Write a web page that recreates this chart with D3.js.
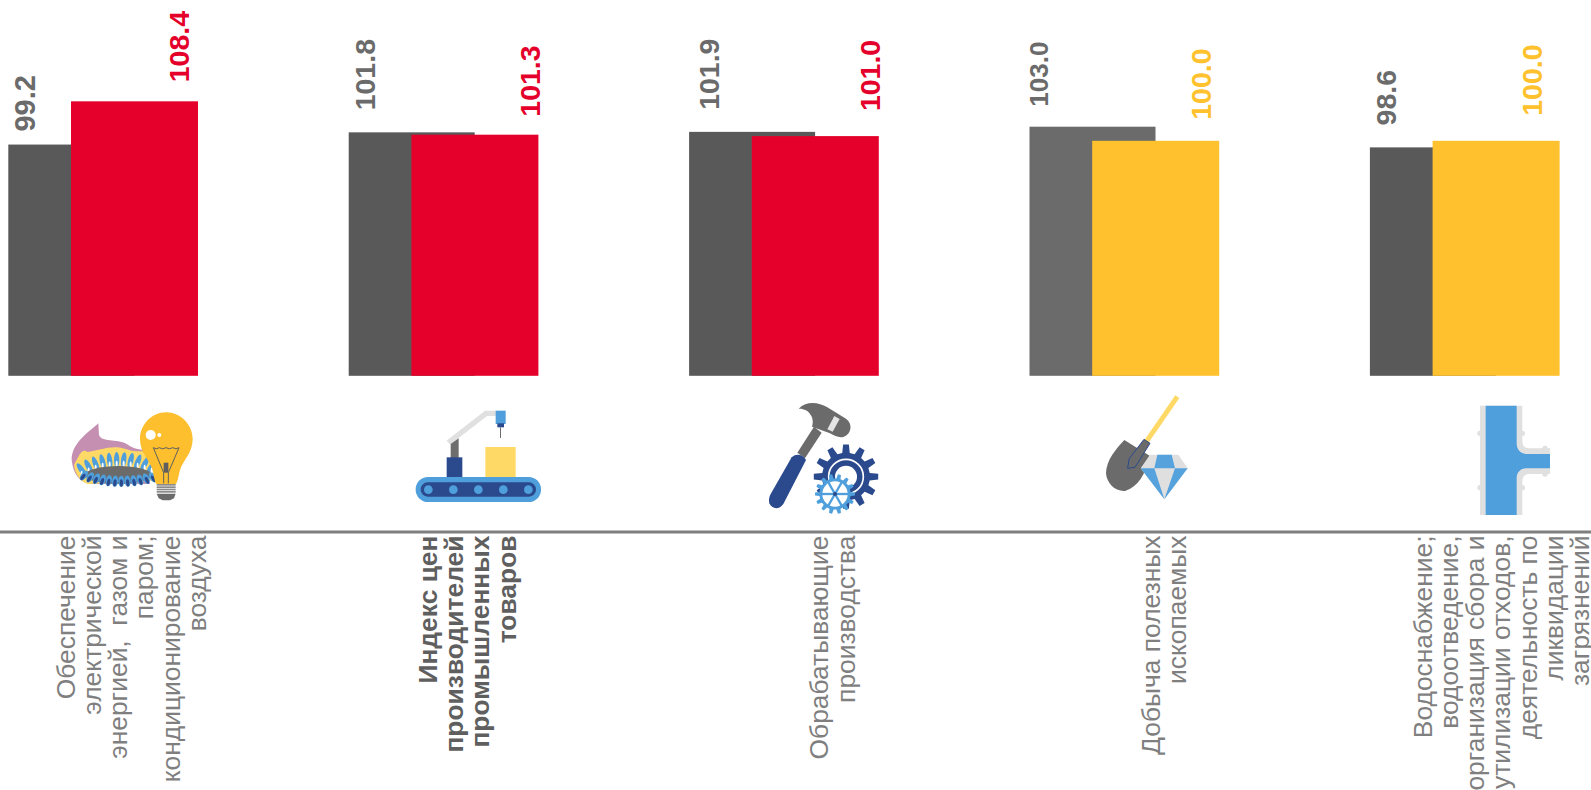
<!DOCTYPE html>
<html><head><meta charset="utf-8">
<script src="https://cdn.jsdelivr.net/npm/d3@7"></script>
<style>html,body{margin:0;padding:0;background:#fff;overflow:hidden}svg{display:block}text{font-family:"Liberation Sans",Arial,sans-serif}</style>
</head><body><svg id="c" width="1591" height="790"></svg>
<script>
const categories=["Обеспечение электрической энергией, газом и паром; кондиционирование воздуха","Индекс цен производителей промышленных товаров","Обрабатывающие производства","Добыча полезных ископаемых","Водоснабжение; водоотведение, организация сбора и утилизации отходов, деятельность по ликвидации загрязнений"];
const labelLines=[["Обеспечение","электрической","энергией,  газом и","паром;","кондиционирование","воздуха"],["Индекс цен","производителей","промышленных","товаров"],["Обрабатывающие","производства"],["Добыча полезных","ископаемых"],["Водоснабжение;","водоотведение,","организация сбора и","утилизации отходов,","деятельность по","ликвидации","загрязнений"]];
const previous=[99.2,101.8,101.9,103.0,98.6];
const current=[108.4,101.3,101.0,100.0,100.0];
const currentColors=["#e4002b","#e4002b","#e4002b","#ffc12d","#ffc12d"];
const previousColors=["#595959","#595959","#595959","#6b6b6b","#595959"];
const boldCategory=1;
// label placement tweaks
const prevLabelDx=[16,16,20,9,16], prevLabelGap=[13,22,22,20,22], prevLabelSize=[29,28.5,28.5,26,28.5];
const curLabelDx=[170,181,181,171,162], curLabelGap=[19,18,25,21,25];
const catLabelCentre=[122.5,118,143,134,131];

const svg=d3.select("#c");
const x=d3.scaleBand().domain(categories).range([8.3,8.3+5*340.4]);
const y=d3.scaleLinear().domain([50,110]).range([375.8,375.8-60*4.7]);
const barW=126, redOff=62.7;

const g=svg.append("g");
g.selectAll("rect.prev").data(categories).join("rect").attr("class","prev")
 .attr("x",d=>x(d)).attr("width",barW).attr("y",(d,i)=>y(previous[i])).attr("height",(d,i)=>y(50)-y(previous[i])).attr("fill",(d,i)=>previousColors[i]);
g.selectAll("rect.cur").data(categories).join("rect").attr("class","cur")
 .attr("x",d=>x(d)+redOff).attr("width",barW+1).attr("y",(d,i)=>y(current[i])).attr("height",(d,i)=>y(50)-y(current[i])).attr("fill",(d,i)=>currentColors[i]);

function vlabel(val,i,dx,gap,color,size){
  const px=x(categories[i])+dx, py=y(val)-gap;
  svg.append("text").attr("transform",`translate(${px},${py}) rotate(-90)`)
   .attr("dy","0.36em").attr("font-size",size).attr("font-weight","bold").attr("fill",color).text(val.toFixed(1));
}
previous.forEach((v,i)=>vlabel(v,i,prevLabelDx[i],prevLabelGap[i],"#6b6b6b",prevLabelSize[i]));
current.forEach((v,i)=>vlabel(v,i,curLabelDx[i],curLabelGap[i],currentColors[i],28.5));

// axis
const axis=d3.axisBottom(x).tickSize(0).tickFormat("");
const ag=svg.append("g").attr("transform","translate(0,532)").call(axis);
ag.select(".domain").attr("d","M0,0H1591").attr("stroke","#7f7f7f").attr("stroke-width",3);

const lh=26.3;
categories.forEach((c,i)=>{
  const lines=labelLines[i], cx=x(c)+catLabelCentre[i];
  lines.forEach((t,j)=>{
    const lx=cx+(j-(lines.length-1)/2)*lh;
    svg.append("text").attr("transform",`translate(${lx},535.5) rotate(-90)`)
      .attr("text-anchor","end").attr("dy","0.36em").attr("font-size",26.4).style("white-space","pre")
      .attr("font-weight",i===boldCategory?"bold":"normal")
      .attr("fill",i===boldCategory?"#5f5f5f":"#7f7f7f").text(t);
  });
});

// icons: drawn in zoom-crop coordinates (scale 1/3)
function icon(ox,oy){return svg.append("g").attr("transform",`translate(${ox},${oy}) scale(${1/3})`);}
const P=(g,d,f,extra={})=>{const p=g.append("path").attr("d",d).attr("fill",f);for(const k in extra)p.attr(k,extra[k]);return p;};
function gearPath(cx,cy,R,r,n){
  const pts=[];const st=Math.PI*2/n;
  for(let i=0;i<n;i++){const a=i*st;
    [[-.3,r],[-.17,R],[.17,R],[.3,r]].forEach(([o,rad])=>{const t=a+o*st;pts.push([cx+rad*Math.cos(t),cy+rad*Math.sin(t)]);});
  }
  return "M"+pts.map(p=>p.join(",")).join("L")+"Z";
}
// 1 gas + bulb
{const g=icon(0,370);
 P(g,"M295 160C262 190 215 220 215 270C220 310 235 335 270 342L450 342L440 238C420 242 400 236 380 222C350 205 305 218 297 195Z","#c48fb0");
 P(g,"M222 285C235 262 245 232 262 246C300 240 340 222 380 238C410 250 430 238 450 250L462 332L262 342C238 332 226 312 222 285Z","#ffd966");
 d3.range(0,11).forEach(i=>{const px=245+i*21,py=262+Math.abs(i-5.5)*Math.abs(i-5.5)*1.0;
   g.append("ellipse").attr("cx",px).attr("cy",py+8).attr("rx",8).attr("ry",24).attr("fill","#4f9fdc").attr("transform",`rotate(${(i-5)*7} ${px} ${py+8})`);
   g.append("ellipse").attr("cx",px).attr("cy",py+20).attr("rx",3).attr("ry",10).attr("fill","#fff");});
 g.append("ellipse").attr("cx",355).attr("cy",315).attr("rx",100).attr("ry",27).attr("fill","#6b6b6b");
 d3.range(0,12).forEach(i=>{const px=250+i*19,py=337-Math.abs(i-6)*Math.abs(i-6)*.5;
   g.append("ellipse").attr("cx",px).attr("cy",py-3).attr("rx",9).attr("ry",17).attr("fill","#4f9fdc").attr("transform",`rotate(${(6-i)*6} ${px} ${py})`);
   g.append("ellipse").attr("cx",px).attr("cy",py+2).attr("rx",5).attr("ry",11).attr("fill","#2b4a8e").attr("transform",`rotate(${(6-i)*6} ${px} ${py})`);});
 P(g,"M498 127C455 127 420 165 420 207C420 250 450 270 458 300C462 320 465 340 470 342L527 342C532 340 535 320 540 300C548 272 578 250 578 207C578 165 542 127 498 127Z","#fdbf2d");
 g.append("circle").attr("cx",452).attr("cy",195).attr("r",15).attr("fill","#fff");
 g.append("circle").attr("cx",478).attr("cy",195).attr("r",6).attr("fill","#fff");
 P(g,"M460 233Q470 240 478 233Q488 240 498 233Q508 240 518 233Q528 240 537 233L505 308L505 340M460 233L491 308L491 340","none",{stroke:"#5f5f5f","stroke-width":3});
 g.append("rect").attr("x",491).attr("y",278).attr("width",14).attr("height",30).attr("fill","#5f5f5f");
 d3.range(0,4).forEach(i=>g.append("rect").attr("x",470).attr("y",342+i*7).attr("width",57).attr("height",5).attr("fill","#8a8a8a"));
 P(g,"M470 371L527 371L522 385L510 391L488 391L476 385Z","#6b6b6b");
}
// 2 conveyor
{const g=icon(380,380);
 P(g,"M205 188L318 100L348 100","none",{stroke:"#e0e0e0","stroke-width":16});
 P(g,"M212 192L236 175L236 235L212 235Z","#6e6e6e");
 g.append("rect").attr("x",200).attr("y",232).attr("width",47).attr("height",62).attr("fill","#2b4a8e");
 g.append("rect").attr("x",316).attr("y",201).attr("width",91).attr("height",93).attr("fill","#ffd966");
 g.append("rect").attr("x",347).attr("y",92).attr("width",30).attr("height",40).attr("fill","#4f9fdc");
 g.append("rect").attr("x",352).attr("y",130).attr("width",20).attr("height",12).attr("fill","#2b4a8e");
 g.append("rect").attr("x",360).attr("y",142).attr("width",3).attr("height",32).attr("fill","#6e6e6e");
 g.append("rect").attr("x",107).attr("y",291).attr("width",376).attr("height",75).attr("rx",37).attr("fill","#4f9fdc");
 g.append("rect").attr("x",122).attr("y",307).attr("width",346).attr("height",43).attr("rx",21).attr("fill","#2b4a8e");
 [145,220,295,370,445].forEach(c=>g.append("circle").attr("cx",c).attr("cy",329).attr("r",13).attr("fill","#4f9fdc"));
}
// 3 hammer + gears
{const g=icon(740,380);
 P(g,"M176 86C200 62 235 66 262 82L318 116C338 130 336 160 312 170C298 175 285 168 270 160L216 140C226 112 205 84 176 86Z","#6b6b6b");
 P(g,"M283 108L299 117L278 155L262 148Z","#e4e4e4");
 P(g,"M222 140L245 158L195 235L172 218Z","#6b6b6b");
 P(g,"M155 232C170 218 190 225 198 240L130 372C118 390 95 388 88 370C85 360 88 350 92 342Z","#2b4a8e");
 P(g,gearPath(318,290,97,72,12),"#2b4a8e");
 g.append("circle").attr("cx",318).attr("cy",290).attr("r",52).attr("fill","none").attr("stroke","#fff").attr("stroke-width",5);
 g.append("circle").attr("cx",318).attr("cy",290).attr("r",33).attr("fill","#fff");
 P(g,gearPath(285,342,60,47,14),"#4f9fdc");
 g.append("circle").attr("cx",285).attr("cy",342).attr("r",38).attr("fill","#fff");
 d3.range(0,6).forEach(i=>{const a=i*Math.PI/3;g.append("line").attr("x1",285).attr("y1",342).attr("x2",285+40*Math.cos(a)).attr("y2",342+40*Math.sin(a)).attr("stroke","#4f9fdc").attr("stroke-width",7);});
 g.append("circle").attr("cx",285).attr("cy",342).attr("r",6).attr("fill","#2b4a8e");
}
// 4 shovel + diamond
{const g=icon(1070,380);
 P(g,"M322 50L229 185","none",{stroke:"#ffd966","stroke-width":15});
 P(g,"M163 180L240 228C225 285 205 320 165 333C135 335 110 310 108 280C108 240 140 205 163 180Z","#6b6b6b");
 P(g,"M222 178L240 190L195 262L173 265L177 237Z","#6b6b6b",{stroke:"#2b4a8e","stroke-width":3});
 P(g,"M212 265L240 224L325 224L353 265L283 358Z","#e0dfe0");
 P(g,"M262 224L305 224L315 265L253 265Z","#55a2dc");
 P(g,"M212 265L253 265L283 358Z","#55a2dc");
 P(g,"M315 265L353 265L283 358Z","#55a2dc");
}
// 5 pipe
{const g=icon(1430,390);
 P(g,"M150 47H277V150C277 170 285 175 300 175H360V252H300C285 252 277 258 277 275V375H150Z","#e0e0e0");
 [[150,130],[277,130],[150,293],[277,293],[345,175],[345,252]].forEach(([a,b])=>g.append("circle").attr("cx",a).attr("cy",b).attr("r",8).attr("fill","#e0e0e0"));
 P(g,"M167 47H260V160C260 180 272 192 290 192H360V235H290C272 235 260 247 260 265V375H167Z","#4f9fdc");
}
</script></body></html>
